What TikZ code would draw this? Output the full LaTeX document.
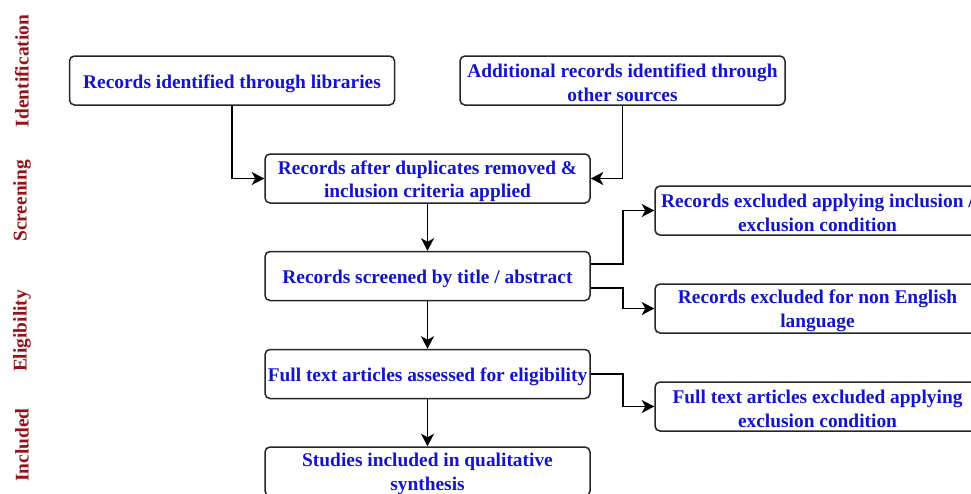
\documentclass[tikz,border=0pt]{standalone}
\usepackage{fontspec}
\setmainfont{Liberation Serif}
\usetikzlibrary{arrows.meta,calc}
\definecolor{txtblue}{RGB}{20,20,205}
\definecolor{stagered}{RGB}{150,18,24}
\tikzset{
  box/.style={draw=black!85, line width=1.5pt, rounded corners=5pt, fill=white,
    minimum width=325pt, minimum height=49pt, inner sep=0pt},
  boxtext/.style={inner sep=0pt, align=center,
    text=txtblue, font=\fontsize{19.4}{23.5}\selectfont\bfseries},
  arr/.style={draw=black, line width=1.6pt, -{Stealth[length=12.5pt,width=13pt,inset=3.5pt]}},
  stage/.style={rotate=90, text=stagered, font=\fontsize{19.4}{23.5}\selectfont\bfseries}
}
\begin{document}
\begin{tikzpicture}[x=1pt,y=-1pt]
\useasboundingbox (0,0) rectangle (971,493);
\clip (0,0) rectangle (971,493);
\fill[white] (0,0) rectangle (971,493);
% stage labels
\node[stage] (s1) at (22,71) {Identification};
\node[stage] (s2) at (22,201) {Screening};
\node[stage] (s3) at (22,331) {Eligibility};
\node[stage] (s4) at (22,445) {Included};
% boxes
\node[box] (b1) at (232,80.5) {};
\node[box] (b2) at (622.5,80.5) {};
\node[box] (b3) at (427.5,178.5) {};
\node[box] (b4) at (817.5,210.5) {};
\node[box] (b5) at (427.5,276) {};
\node[box] (b6) at (817.5,308.5) {};
\node[box] (b7) at (427.5,374) {};
\node[box] (b8) at (817.5,406.5) {};
\node[box] (b9) at (427.5,471.5) {};
% box texts
\node[boxtext] (t1) at ($(b1)+(0,3)$) {Records identified through libraries};
\node[boxtext] (t2) at ($(b2)+(0,2.5)$) {Additional records identified through\\other sources};
\node[boxtext] (t3) at ($(b3)+(0,2.5)$) {Records after duplicates removed \&\\inclusion criteria applied};
\node[boxtext] (t4) at ($(b4)+(0,2.5)$) {Records excluded applying inclusion /\\exclusion condition};
\node[boxtext] (t5) at ($(b5)+(0,3)$) {Records screened by title / abstract};
\node[boxtext] (t6) at ($(b6)+(0,2.5)$) {Records excluded for non English\\language};
\node[boxtext] (t7) at ($(b7)+(0,3)$) {Full text articles assessed for eligibility};
\node[boxtext] (t8) at ($(b8)+(0,2.5)$) {Full text articles excluded applying\\exclusion condition};
\node[boxtext] (t9) at ($(b9)+(0,2.5)$) {Studies included in qualitative\\synthesis};
% connectors
\draw[arr] (b1.south) |- (b3.west);
\draw[arr] (b2.south) |- (b3.east);
\draw[arr] (b3.south) -- (b5.north);
\draw[arr] ($(b5.east)+(0,-12)$) -- ++(32,0) |- (b4.west);
\draw[arr] ($(b5.east)+(0,12)$) -- ++(32,0) |- (b6.west);
\draw[arr] (b5.south) -- (b7.north);
\draw[arr] (b7.east) -- ++(32,0) |- (b8.west);
\draw[arr] (b7.south) -- (b9.north);
\end{tikzpicture}
\end{document}
